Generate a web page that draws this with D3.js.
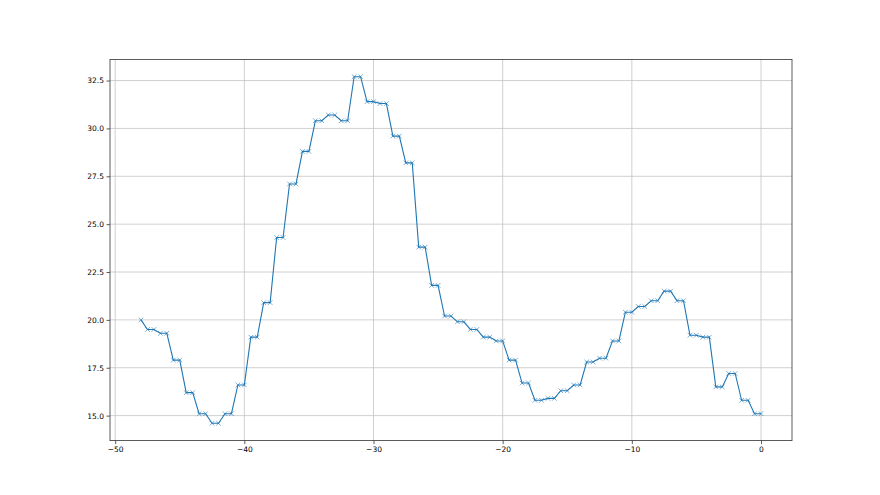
<!DOCTYPE html>
<html><head><meta charset="utf-8">
<script src="https://cdn.jsdelivr.net/npm/d3@7"></script>
<style>body{margin:0;background:#fff}svg{display:block}text{font-family:"DejaVu Sans",sans-serif}</style>
</head><body><svg id="c" width="880" height="495"></svg>
<script>
// hourly levels (each level holds for two half-hour samples), plus the first sample at -48
const firstX = -48;
const firstValue = 20.0;
const levels = [19.5,19.3,17.9,16.2,15.1,14.6,15.1,16.6,19.1,20.9,
  24.3,27.1,28.8,30.4,30.7,30.4,32.7,31.4,31.3,29.6,
  28.2,23.8,21.8,20.2,19.9,19.5,19.1,18.9,17.9,16.7,
  15.8,15.9,16.3,16.6,17.8,18.0,18.9,20.4,20.7,21.0,
  21.5,21.0,19.2,19.1,16.5,17.2,15.8,15.1];
const xTicks = [-50,-40,-30,-20,-10,0];
const yTicks = [15.0,17.5,20.0,22.5,25.0,27.5,30.0,32.5];

const data = [{x:firstX, y:firstValue}];
levels.forEach((v,i)=>{
  data.push({x:firstX+0.5+i, y:v});
  data.push({x:firstX+1+i, y:v});
});

const L=110, R=792, T=59.4, B=440.6;
const svg=d3.select("#c");
const xmin=d3.min(data,d=>d.x), xmax=d3.max(data,d=>d.x);
const ymin=d3.min(data,d=>d.y), ymax=d3.max(data,d=>d.y);
const xp=(xmax-xmin)*0.05, yp=(ymax-ymin)*0.05;
const x=d3.scaleLinear().domain([xmin-xp,xmax+xp]).range([L,R]);
const y=d3.scaleLinear().domain([ymin-yp,ymax+yp]).range([B,T]);

const grid=svg.append("g");
grid.selectAll("line.vx").data(xTicks).join("line")
  .attr("x1",d=>x(d)).attr("x2",d=>x(d)).attr("y1",T).attr("y2",B)
  .attr("stroke","#c4c4c4").attr("stroke-width",0.8);
grid.selectAll("line.hy").data(yTicks).join("line")
  .attr("y1",d=>y(d)).attr("y2",d=>y(d)).attr("x1",L).attr("x2",R)
  .attr("stroke","#c4c4c4").attr("stroke-width",0.8);

svg.append("path").datum(data)
  .attr("d",d3.line().x(d=>x(d.x)).y(d=>y(d.y)))
  .attr("fill","none").attr("stroke","#1f77b4").attr("stroke-width",1.1);

const m=2.3;
svg.append("g").selectAll("path").data(data).join("path")
  .attr("d",d=>`M${x(d.x)-m},${y(d.y)-m}L${x(d.x)+m},${y(d.y)+m}M${x(d.x)-m},${y(d.y)+m}L${x(d.x)+m},${y(d.y)-m}`)
  .attr("stroke","#1f77b4").attr("stroke-width",0.7).attr("fill","none").attr("opacity",0.85);

const fmtX=d=>(d<0?"\u2212"+Math.abs(d):String(d));
const xa=svg.append("g").attr("transform",`translate(0,${B})`)
  .call(d3.axisBottom(x).tickValues(xTicks).tickFormat(fmtX).tickSizeOuter(0).tickSize(3.5).tickPadding(2.5));
const ya=svg.append("g").attr("transform",`translate(${L},0)`)
  .call(d3.axisLeft(y).tickValues(yTicks).tickFormat(d3.format(".1f")).tickSizeOuter(0).tickSize(3.5).tickPadding(2.5));
[xa,ya].forEach(a=>{a.select(".domain").remove();
  a.selectAll("text").attr("font-size",7.5).attr("fill","#000").attr("font-family","DejaVu Sans");
  a.selectAll("line").attr("stroke","#333").attr("stroke-width",0.8);});

svg.append("rect").attr("x",L).attr("y",T).attr("width",R-L).attr("height",B-T)
  .attr("fill","none").attr("stroke","#333").attr("stroke-width",0.8);
</script></body></html>
